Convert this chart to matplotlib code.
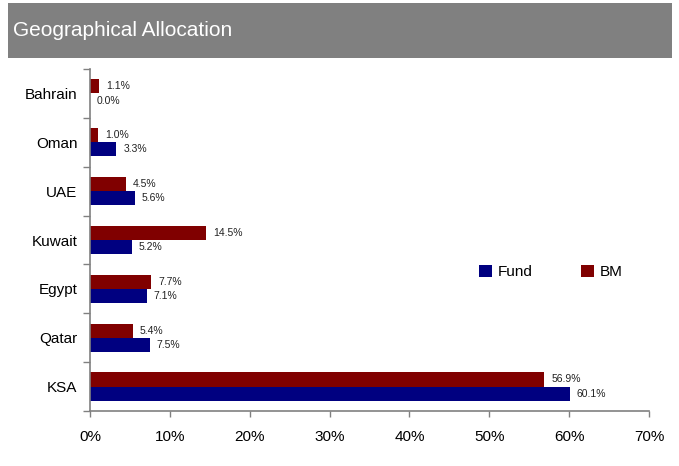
import matplotlib.pyplot as plt
import numpy as np
from matplotlib.patches import Rectangle
from matplotlib.ticker import PercentFormatter

plt.rcParams['font.family'] = ['Liberation Sans', 'DejaVu Sans']

countries = ['KSA', 'Qatar', 'Egypt', 'Kuwait', 'UAE', 'Oman', 'Bahrain']
fund = [60.1, 7.5, 7.1, 5.2, 5.6, 3.3, 0.0]
bm = [56.9, 5.4, 7.7, 14.5, 4.5, 1.0, 1.1]

fund_color = '#000080'
bm_color = '#800000'

fig = plt.figure(figsize=(6.79, 4.66), dpi=100)

# grey header band
fig.patches.append(Rectangle((8 / 679, 1 - 58 / 466), 664 / 679, 55 / 466,
                             transform=fig.transFigure, facecolor='#808080',
                             edgecolor='none', zorder=0))
fig.text(13 / 679, 1 - 31 / 466, 'Geographical Allocation', color='white',
         fontsize=15, va='center', ha='left')

ax = fig.add_axes([90 / 679, 1 - 411 / 466, 559 / 679, 342 / 466])

y = np.arange(len(countries))
h = 0.29
ax.barh(y - h / 2, fund, height=h, color=fund_color, label='Fund')
ax.barh(y + h / 2, bm, height=h, color=bm_color, label='BM')

for yi, v in zip(y, fund):
    ax.annotate(f'{v:.1f}%', (v, yi - h / 2), xytext=(5, 0),
                textcoords='offset points', va='center', fontsize=7.5,
                color='#222222')
for yi, v in zip(y, bm):
    ax.annotate(f'{v:.1f}%', (v, yi + h / 2), xytext=(5, 0),
                textcoords='offset points', va='center', fontsize=7.5,
                color='#222222')

ax.set_xlim(0, 70)
ax.set_ylim(-0.5, len(countries) - 0.5)
ax.set_xticks(np.arange(0, 71, 10))
ax.xaxis.set_major_formatter(PercentFormatter(decimals=0))
ax.set_yticks(y)
ax.set_yticklabels(countries)
ax.set_yticks(np.arange(-0.5, len(countries), 1), minor=True)
ax.tick_params(axis='y', which='major', length=0, pad=9, labelsize=11)
ax.tick_params(axis='y', which='minor', length=5, color='#808080', width=1)
ax.tick_params(axis='x', length=4, color='#808080', width=1, labelsize=11,
               pad=10)

for side in ('top', 'right'):
    ax.spines[side].set_visible(False)
for side in ('left', 'bottom'):
    ax.spines[side].set_color('#808080')
    ax.spines[side].set_linewidth(1.2)

ax.legend(loc='center', bbox_to_anchor=(551 / 679, 1 - 272 / 466),
          bbox_transform=fig.transFigure, ncol=2, frameon=False,
          fontsize=11, handlelength=0.8, handleheight=0.8,
          columnspacing=3.2, handletextpad=0.4)

fig.savefig('out.png', dpi=100)
